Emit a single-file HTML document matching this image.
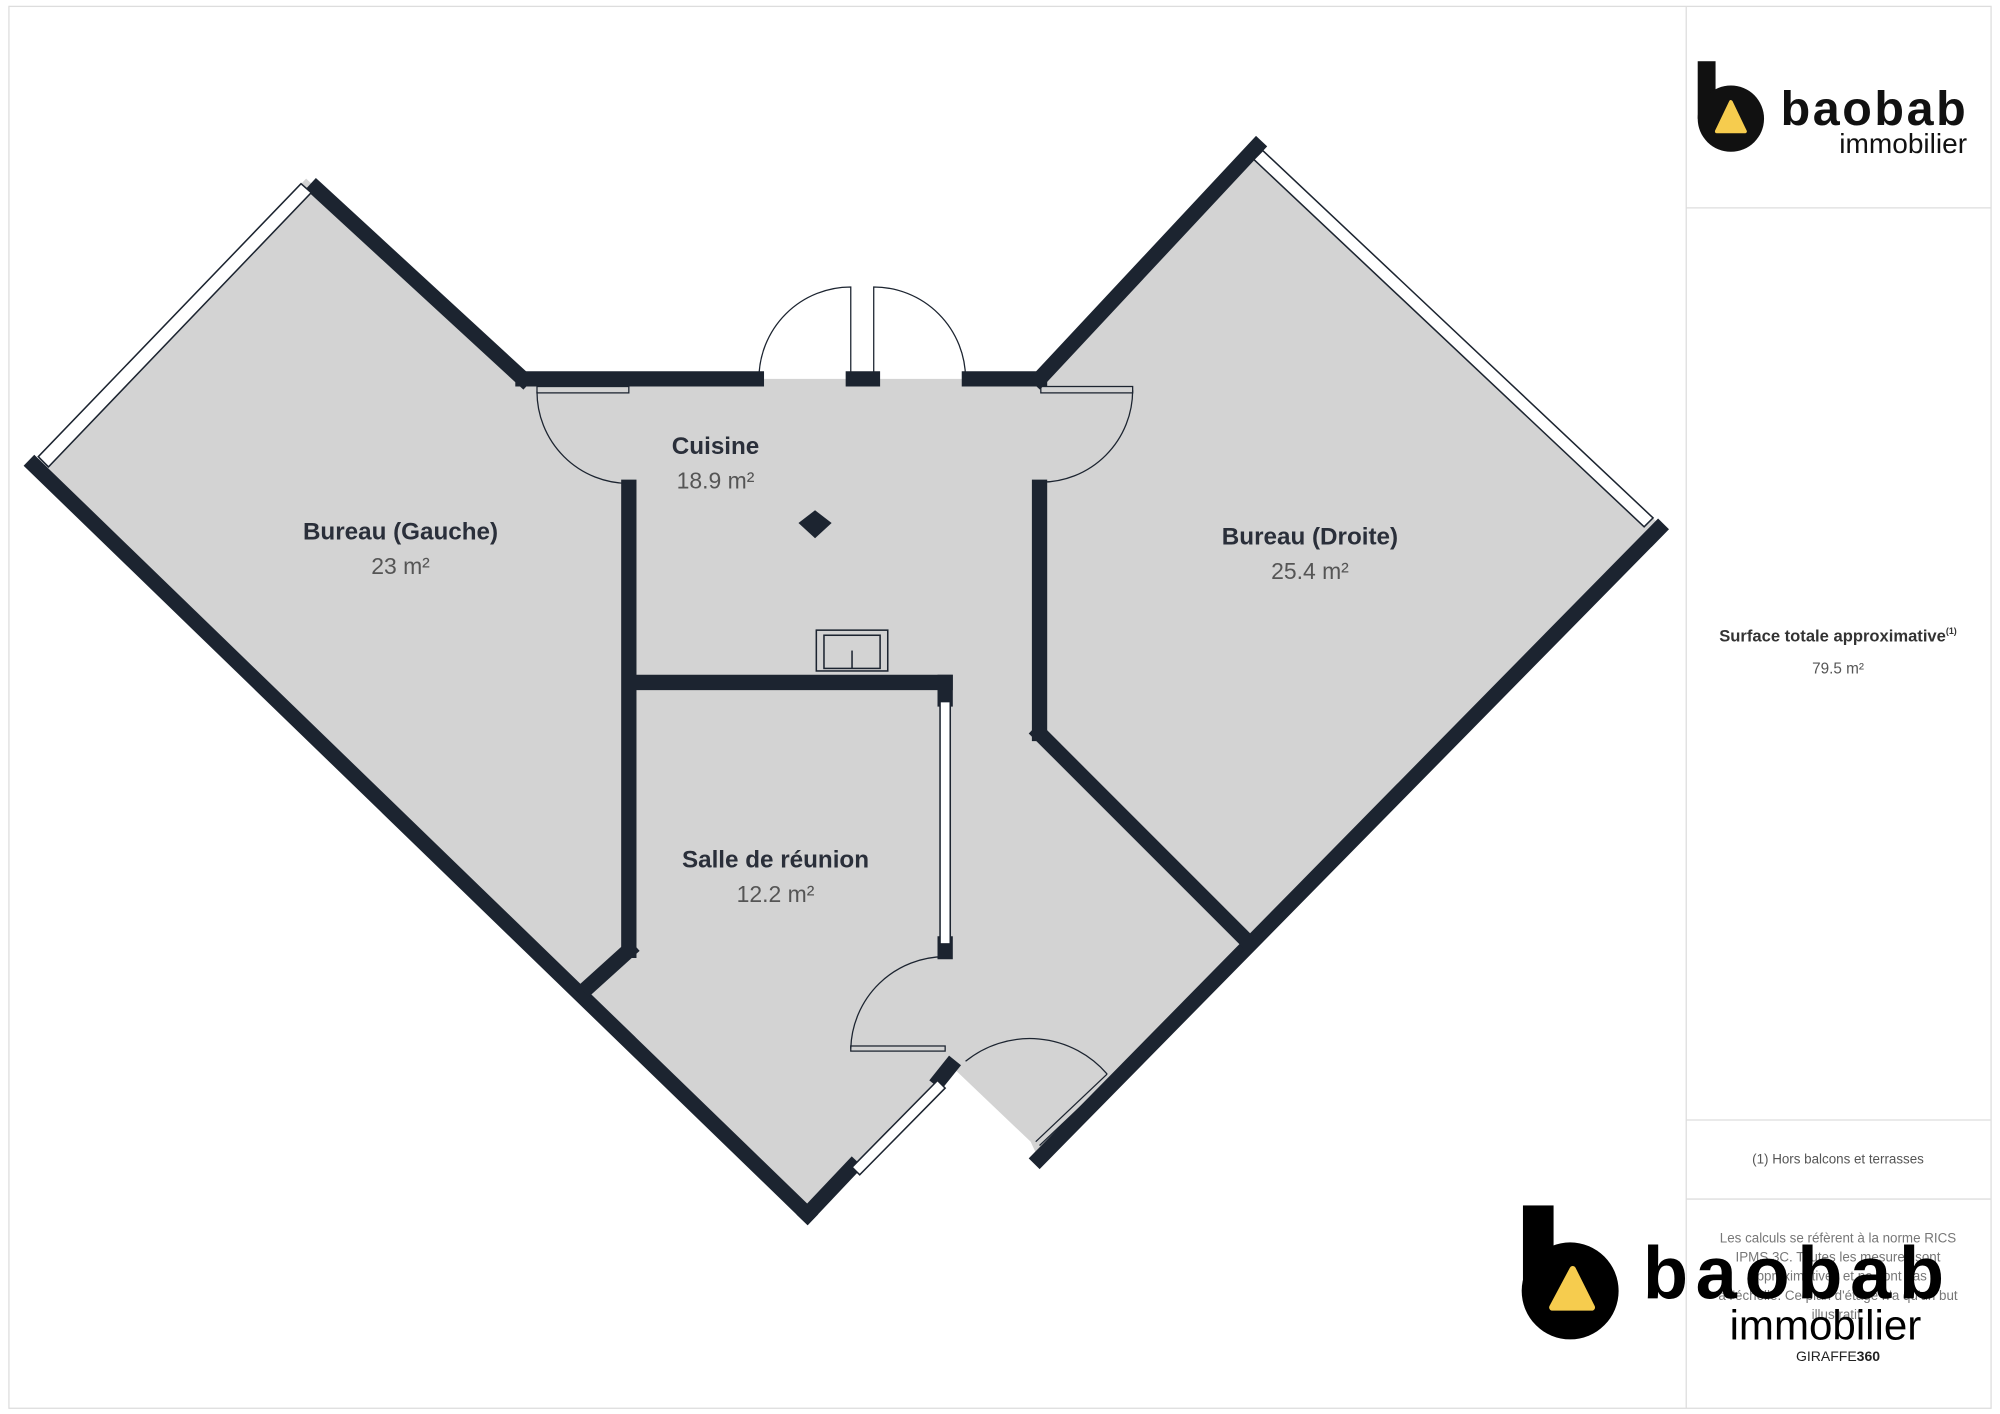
<!DOCTYPE html>
<html><head><meta charset="utf-8"><style>
html,body{margin:0;padding:0;background:#fff}
svg{display:block}
text{font-family:"Liberation Sans",sans-serif}
</style></head><body>
<svg width="2000" height="1414" viewBox="0 0 1568 1108.5" preserveAspectRatio="none" xmlns="http://www.w3.org/2000/svg">
<rect x="0" y="0" width="1568" height="1109" fill="#fff"/>
<rect x="7" y="5" width="1554" height="1099" fill="none" stroke="#ddd" stroke-width="1"/>
<line x1="1322" y1="5" x2="1322" y2="1104" stroke="#ddd"/>
<line x1="1322" y1="163" x2="1561" y2="163" stroke="#ddd"/>
<line x1="1322" y1="878" x2="1561" y2="878" stroke="#ddd"/>
<line x1="1322" y1="940" x2="1561" y2="940" stroke="#ddd"/>

<polygon points="240,140 410,297 815,297 985,113 1302,412 815,910 808,895 745,835 633,955 25,365" fill="#d3d3d3"/>

<g stroke="#1c2430" stroke-width="12" fill="none" stroke-linecap="square">
<line x1="248" y1="148" x2="410" y2="297"/>
<line x1="410" y1="297" x2="593" y2="297"/>
<line x1="669" y1="297" x2="684" y2="297"/>
<line x1="760" y1="297" x2="815" y2="297"/>
<line x1="815" y1="297" x2="985" y2="115"/>
<line x1="1300" y1="415" x2="815" y2="908"/>
<line x1="27" y1="365" x2="633" y2="952"/>
<line x1="633" y1="952" x2="668" y2="915"/>
<line x1="737" y1="846" x2="745" y2="836"/>
<line x1="493" y1="382" x2="493" y2="745"/>
<line x1="493" y1="745" x2="462" y2="773"/>
<line x1="498" y1="535" x2="741" y2="535"/>
<line x1="741" y1="535" x2="741" y2="548"/>
<line x1="741" y1="740" x2="741" y2="746"/>
<line x1="815" y1="382" x2="815" y2="575"/>
<line x1="815" y1="575" x2="975" y2="735"/>
</g>
<g stroke="#1c2430" stroke-width="1.2" fill="#fff">
<polygon points="30,358 236,144 244,151 38,366"/>
<polygon points="990,118 1296,406 1289,413 983,125"/>
<polygon points="668,915 735,847 741,853 674,921"/>
<rect x="737" y="550" width="8" height="190"/>
<rect x="640" y="494" width="56" height="32" fill="none"/>
<rect x="646" y="498" width="44" height="26" fill="none"/>
<line x1="668" y1="510" x2="668" y2="524"/>
</g>
<polygon points="639,400 652,410 639,422 626,410" fill="#1c2430"/>
<g stroke="#1c2430" stroke-width="1" fill="none">
<path d="M595,297 A72,72 0 0 1 667,225 L667,297"/>
<path d="M685,297 L685,225 A72,72 0 0 1 757,297"/>
<path d="M421,307 A72,72 0 0 0 493,379"/>
<rect x="421" y="303" width="72" height="5"/>
<path d="M888,306 A72,72 0 0 1 816,378"/>
<rect x="816" y="303" width="72" height="5"/>
<path d="M741,750 A74,74 0 0 0 667,822"/>
<rect x="667" y="820" width="74" height="4"/>
<path d="M757,832 A80,80 0 0 1 868,842"/>
<line x1="812" y1="895" x2="868" y2="842"/>
<line x1="815" y1="898" x2="871" y2="845"/>
</g>
<g text-anchor="middle" fill="#2a2f3a">
<text x="314" y="423" font-size="19" font-weight="bold">Bureau (Gauche)</text>
<text x="314" y="450" font-size="18" fill="#555">23 m²</text>
<text x="561" y="356" font-size="19" font-weight="bold">Cuisine</text>
<text x="561" y="383" font-size="18" fill="#555">18.9 m²</text>
<text x="1027" y="427" font-size="19" font-weight="bold">Bureau (Droite)</text>
<text x="1027" y="454" font-size="18" fill="#555">25.4 m²</text>
<text x="608" y="680" font-size="19" font-weight="bold">Salle de réunion</text>
<text x="608" y="707" font-size="18" fill="#555">12.2 m²</text>
</g>
<g>
<rect x="1331" y="48" width="14" height="45" fill="#111"/>
<circle cx="1357" cy="93" r="26" fill="#111"/>
<polygon points="1357,80 1368,103 1346,103" fill="#f6cc4e" stroke="#f6cc4e" stroke-width="3" stroke-linejoin="round"/>
<text x="1396" y="98" font-size="38" font-weight="bold" fill="#111" letter-spacing="2">baobab</text>
<text x="1442" y="120" font-size="22" fill="#111">immobilier</text>
</g>
<text x="1441" y="503" font-size="13" font-weight="bold" text-anchor="middle" fill="#333">Surface totale approximative<tspan font-size="7" dy="-6">(1)</tspan></text>
<text x="1441" y="528" font-size="12" text-anchor="middle" fill="#555">79.5 m²</text>
<text x="1441" y="912" font-size="10.5" text-anchor="middle" fill="#555">(1) Hors balcons et terrasses</text>
<g font-size="10.5" text-anchor="middle" fill="#777">
<text x="1441" y="974">Les calculs se réfèrent à la norme RICS</text>
<text x="1441" y="989">IPMS 3C. Toutes les mesures sont</text>
<text x="1441" y="1004">approximatives et ne sont pas</text>
<text x="1441" y="1019">à l'échelle. Ce plan d'étage n'a qu'un but</text>
<text x="1441" y="1034">illustratif.</text>
</g>
<g>
<rect x="1194" y="945" width="24" height="70" fill="#000"/>
<circle cx="1231" cy="1012" r="38" fill="#000"/>
<polygon points="1233,995 1248,1025 1217,1025" fill="#f6cc4e" stroke="#f6cc4e" stroke-width="5" stroke-linejoin="round"/>
<text x="1288" y="1018" font-size="58" font-weight="bold" fill="#000" letter-spacing="6">baobab</text>
<text x="1356" y="1050" font-size="33" fill="#000">immobilier</text>
</g>
<text x="1441" y="1067" font-size="11" text-anchor="middle" fill="#222">GIRAFFE<tspan font-weight="bold">360</tspan></text>
</svg>
</body></html>
